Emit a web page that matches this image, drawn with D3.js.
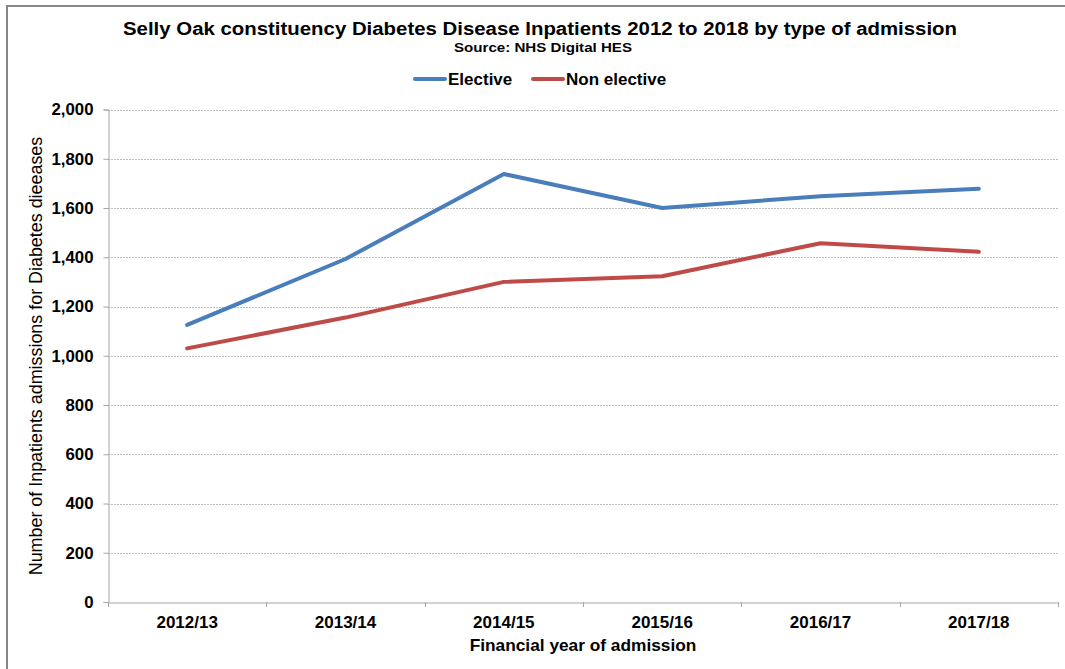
<!DOCTYPE html>
<html>
<head>
<meta charset="utf-8">
<script src="https://cdn.jsdelivr.net/npm/d3@7"></script>
<style>
  html, body { margin: 0; padding: 0; background: #fff; }
  svg { display: block; font-family: "Liberation Sans", Arial, sans-serif; }
</style>
</head>
<body>
<svg id="chart" width="1065" height="669"></svg>
<script>
const categories = ["2012/13", "2013/14", "2014/15", "2015/16", "2016/17", "2017/18"];
const elective = [1125, 1393, 1738, 1600, 1648, 1678];
const nonElective = [1030, 1155, 1300, 1323, 1457, 1422];
const yTicks = [0, 200, 400, 600, 800, 1000, 1200, 1400, 1600, 1800, 2000];
const seriesNames = ["Elective", "Non elective"];
const seriesColors = ["#4a7ebb", "#be4b48"];

const svg = d3.select("#chart");
const margin = { left: 108, right: 1058, top: 109.5, bottom: 602 };

// outer chart border (left/top visible)
svg.append("rect").attr("x", 7).attr("y", 6).attr("width", 1100).attr("height", 700)
  .attr("fill", "none").attr("stroke", "#868686").attr("stroke-width", 2);

const x = d3.scaleBand().domain(categories).range([margin.left, margin.right]).paddingInner(0).paddingOuter(0);
const y = d3.scaleLinear().domain([0, 2000]).range([margin.bottom, margin.top]);

// gridlines
svg.append("g").selectAll("line").data(yTicks.filter(d => d > 0)).join("line")
  .attr("x1", margin.left).attr("x2", margin.right)
  .attr("y1", d => Math.round(y(d)) + 0.5).attr("y2", d => Math.round(y(d)) + 0.5)
  .attr("stroke", "#bdbdbd").attr("stroke-width", 1).attr("stroke-dasharray", "2,1");

// y axis
const yAxis = svg.append("g").attr("transform", `translate(${margin.left + 0.5},0)`)
  .call(d3.axisLeft(y).tickValues(yTicks).tickSize(5).tickPadding(10).tickFormat(d3.format(",")));
yAxis.select(".domain").attr("stroke", "#a6a6a6");
yAxis.selectAll(".tick line").attr("stroke", "#a6a6a6");
yAxis.selectAll(".tick text").attr("font-size", 16.8).attr("font-weight", "bold").attr("fill", "#000")
  .attr("font-family", "Liberation Sans, Arial, sans-serif");

// x axis
const xAxis = svg.append("g").attr("transform", `translate(0,${margin.bottom + 0.5})`)
  .call(d3.axisBottom(x).tickSize(0).tickPadding(13));
xAxis.select(".domain").attr("stroke", "#a6a6a6");
xAxis.selectAll(".tick text").attr("font-size", 17).attr("font-weight", "bold").attr("fill", "#000")
  .attr("font-family", "Liberation Sans, Arial, sans-serif");
// category boundary ticks
const bounds = categories.map(c => x(c)).concat([margin.right]);
svg.append("g").selectAll("line").data(bounds).join("line")
  .attr("x1", d => Math.round(d) + 0.5).attr("x2", d => Math.round(d) + 0.5)
  .attr("y1", margin.bottom).attr("y2", margin.bottom + 5)
  .attr("stroke", "#a6a6a6");

// lines
const line = d3.line().x((d, i) => x(categories[i]) + x.bandwidth() / 2).y(d => y(d));
[elective, nonElective].forEach((vals, k) => {
  svg.append("path").datum(vals).attr("d", line)
    .attr("fill", "none").attr("stroke", seriesColors[k]).attr("stroke-width", 4)
    .attr("stroke-linecap", "round").attr("stroke-linejoin", "round");
});

// titles
svg.append("text").attr("x", 540).attr("y", 35).attr("text-anchor", "middle")
  .attr("font-size", 18).attr("font-weight", "bold").attr("fill", "#000")
  .attr("textLength", 834).attr("lengthAdjust", "spacingAndGlyphs")
  .text("Selly Oak constituency Diabetes Disease Inpatients 2012 to 2018 by type of admission");
svg.append("text").attr("x", 543).attr("y", 52).attr("text-anchor", "middle")
  .attr("font-size", 13).attr("font-weight", "bold").attr("fill", "#000")
  .attr("textLength", 178).attr("lengthAdjust", "spacingAndGlyphs")
  .text("Source: NHS Digital HES");

// legend
const legendItems = [{ name: seriesNames[0], x: 415 }, { name: seriesNames[1], x: 533 }];
legendItems.forEach((it, k) => {
  svg.append("line").attr("x1", it.x).attr("x2", it.x + 30).attr("y1", 79).attr("y2", 79)
    .attr("stroke", seriesColors[k]).attr("stroke-width", 4).attr("stroke-linecap", "round");
  svg.append("text").attr("x", it.x + 33).attr("y", 85).attr("font-size", 17).attr("font-weight", "bold")
    .attr("fill", "#000").text(it.name);
});

// axis titles
svg.append("text").attr("x", 583).attr("y", 651).attr("text-anchor", "middle")
  .attr("font-size", 17.3).attr("font-weight", "bold").attr("fill", "#000")
  .text("Financial year of admission");
svg.append("text").attr("transform", "translate(42,356) rotate(-90)").attr("text-anchor", "middle")
  .attr("font-size", 17.9).attr("fill", "#000")
  .text("Number of Inpatients admissions for Diabetes dieeases");
</script>
</body>
</html>
